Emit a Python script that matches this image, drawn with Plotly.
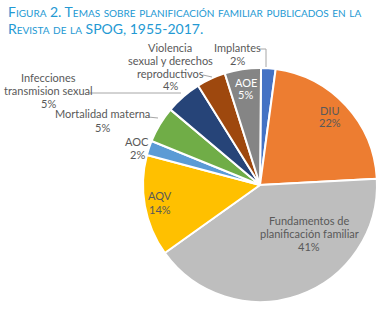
import plotly.graph_objects as go

W, H = 391, 310

# ---- data ----
categories = ["Implantes", "DIU", "Fundamentos de planificación familiar", "AQV", "AOC",
              "Mortalidad materna", "Infecciones transmision sexual",
              "Violencia sexual y derechos reproductivos", "AOE"]
values = [2, 22, 41, 14, 2, 5, 5, 4, 5]
label_lines = [
    ["Implantes"],
    ["DIU"],
    ["Fundamentos de", "planificación familiar"],
    ["AQV"],
    ["AOC"],
    ["Mortalidad materna"],
    ["Infecciones", "transmision sexual"],
    ["Violencia", "sexual y derechos", "reproductivos"],
    ["AOE"],
]
title_lines = ["Figura 2. Temas sobre planificación familiar publicados en la",
               "Revista de la SPOG, 1955-2017."]

# ---- styles ----
colors = ["#4472C4", "#ED7D31", "#BEBEBE", "#FFC000", "#5B9BD5",
          "#70AD47", "#264478", "#9E480E", "#858585"]
# label centre (px) for first line, text colour, per slice
label_pos = [(237, 47), (330, 110), (309, 220), (160, 196), (137, 141),
             (103, 114), (48, 78), (170, 47), (246, 82)]
label_col = ["#595959", "#595959", "#595959", "#595959", "#595959",
             "#595959", "#595959", "#595959", "#FFFFFF"]
LS = 13  # line spacing px
FONT = "Lato"
CX, CY, R = 260, 185, 117


def px(x):
    return x / W


def py(y):
    return 1 - y / H


fig = go.Figure(go.Pie(
    labels=categories, values=values, sort=False, direction="clockwise",
    rotation=0.5, textinfo="none", hoverinfo="label+percent",
    marker=dict(colors=colors, line=dict(color="white", width=2)),
    domain=dict(x=[px(CX - R), px(CX + R)], y=[py(CY + R), py(CY - R)]),
    showlegend=False,
))

annotations = []
for lines, v, (x0, y0), col in zip(label_lines, values, label_pos, label_col):
    allines = lines + [f"{v}%"]
    for i, t in enumerate(allines):
        annotations.append(dict(
            text=t, x=px(x0), y=py(y0 + i * LS), xref="paper", yref="paper",
            xanchor="center", yanchor="middle", showarrow=False,
            font=dict(family=FONT, size=11, color=col)))

for i, t in enumerate(title_lines):
    annotations.append(dict(
        text=t, x=px(6), y=py(12 + i * 17), xref="paper", yref="paper",
        xanchor="left", yanchor="middle", showarrow=False,
        font=dict(family=FONT, size=14, color="#2399D3", variant="small-caps")))

leader_color = "#A6A6A6"
leaders = [
    [(259, 49), (266, 49), (266, 67)],      # Implantes
    [(203, 75), (212, 77)],                 # Violencia
    [(89, 93), (181, 93)],                  # Infecciones
    [(148, 117), (158, 118)],               # Mortalidad
]
shapes = []
for pts in leaders:
    path = "M " + " L ".join(f"{px(x)} {py(y)}" for x, y in pts)
    shapes.append(dict(type="path", path=path, xref="paper", yref="paper",
                       line=dict(color=leader_color, width=1)))

fig.update_layout(
    width=W, height=H, margin=dict(l=0, r=0, t=0, b=0),
    paper_bgcolor="white", plot_bgcolor="white",
    annotations=annotations, shapes=shapes,
)
fig.write_html("out.html", config=dict(displayModeBar=False),
               post_script="document.body.style.margin='0';document.body.style.overflow='hidden';")
